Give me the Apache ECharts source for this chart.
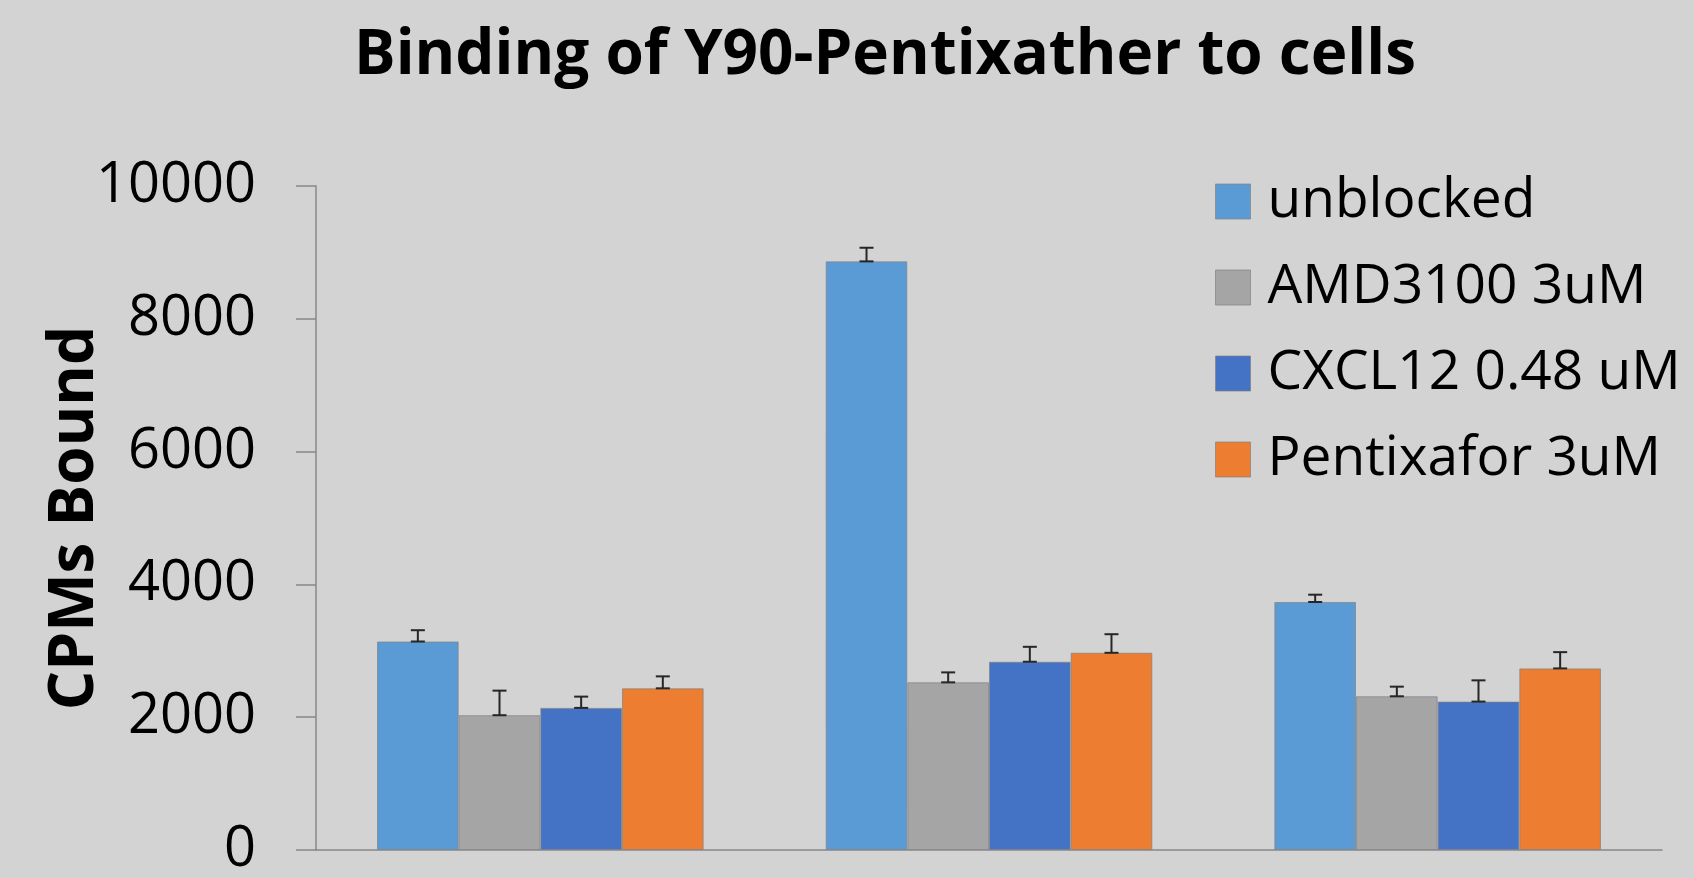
<!DOCTYPE html>
<html>
<head>
<meta charset="utf-8">
<title>Binding of Y90-Pentixather to cells</title>
<script src="https://cdn.jsdelivr.net/npm/echarts@6/dist/echarts.min.js"></script>
<style>
  html, body { margin: 0; padding: 0; background: #d3d3d3; }
  #chart { width: 1694px; height: 878px; }
</style>
</head>
<body>
<div id="chart"></div>
<script>
// groups have no labels on the axis
const categories = ['Group 1', 'Group 2', 'Group 3']
const seriesNames = ['unblocked', 'AMD3100 3uM', 'CXCL12 0.48 uM', 'Pentixafor 3uM']
const unblocked = [3140, 8865, 3735]
const amd3100 = [2030, 2525, 2315]
const cxcl12 = [2140, 2835, 2235]
const pentixafor = [2435, 2970, 2735]
// upper error (plus only)
const unblockedErr = [170, 205, 110]
const amd3100Err = [370, 150, 145]
const cxcl12Err = [170, 225, 320]
const pentixaforErr = [180, 280, 245]
const yTicks = [0, 2000, 4000, 6000, 8000, 10000]

const values = [unblocked, amd3100, cxcl12, pentixafor]
const errors = [unblockedErr, amd3100Err, cxcl12Err, pentixaforErr]
const colors = ['#5b9bd5', '#a5a5a5', '#4472c4', '#ed7d31']

const catGap = 0.272
const font = '"Open Sans", sans-serif'

const chart = echarts.init(document.getElementById('chart'))

const barSeries = values.map((data, i) => ({
  name: seriesNames[i],
  type: 'bar',
  data: data,
  barGap: 0,
  barCategoryGap: catGap * 100 + '%',
  itemStyle: {
    color: colors[i],
    borderColor: 'rgba(130,130,130,0.7)',
    borderWidth: 1
  }
}))

// error bars drawn on top of the bars
const errSeries = values.map((data, i) => ({
  type: 'custom',
  name: seriesNames[i] + ' err',
  z: 10,
  silent: true,
  data: data.map((v, j) => [j, v, v + errors[i][j]]),
  renderItem: function(params, api) {
    const band = api.size([1, 0])[0]
    const barW = band * (1 - catGap) / 4
    const off = -band * (1 - catGap) / 2 + barW * (i + 0.5)
    const lo = api.coord([api.value(0), api.value(1)])
    const hi = api.coord([api.value(0), api.value(2)])
    const x = lo[0] + off
    const cap = 7
    const style = { stroke: '#262626', lineWidth: 2 }
    return {
      type: 'group',
      children: [
        { type: 'line', shape: { x1: x, y1: lo[1], x2: x, y2: hi[1] }, style: style },
        { type: 'line', shape: { x1: x - cap, y1: hi[1], x2: x + cap, y2: hi[1] }, style: style },
        { type: 'line', shape: { x1: x - cap, y1: lo[1], x2: x + cap, y2: lo[1] }, style: style }
      ]
    }
  }
}))

const option = {
  backgroundColor: '#d3d3d3',
  animation: false,
  title: {
    text: 'Binding of Y90-Pentixather to cells',
    left: 880,
    textAlign: 'center',
    top: 20,
    textStyle: {
      fontFamily: font,
      fontWeight: 'bold',
      fontSize: 62,
      color: '#000'
    }
  },
  legend: {
    data: seriesNames,
    orient: 'vertical',
    left: 1210,
    top: 169,
    itemWidth: 35,
    itemHeight: 35,
    itemGap: 31,
    icon: 'rect',
    itemStyle: { borderColor: 'rgba(130,130,130,0.7)', borderWidth: 1 },
    textStyle: {
      fontFamily: font,
      fontSize: 55,
      color: '#000',
      padding: [0, 0, 0, 12]
    }
  },
  grid: {
    left: 316,
    right: 32,
    top: 186,
    bottom: 26
  },
  xAxis: {
    type: 'category',
    data: categories,
    axisLine: { lineStyle: { color: '#888', width: 1.5 } },
    axisTick: { show: false },
    axisLabel: { show: false }
  },
  yAxis: {
    type: 'value',
    min: yTicks[0],
    max: yTicks[yTicks.length - 1],
    interval: yTicks[1] - yTicks[0],
    name: 'CPMs Bound',
    nameLocation: 'middle',
    nameGap: 210,
    nameMoveOverlap: false,
    nameTextStyle: {
      fontFamily: font,
      fontWeight: 'bold',
      fontSize: 62,
      color: '#000'
    },
    axisLine: { show: true, lineStyle: { color: '#888', width: 1.5 } },
    axisTick: { show: true, length: 20, lineStyle: { color: '#888', width: 1.5 } },
    splitLine: { show: false },
    axisLabel: {
      margin: 60,
      fontFamily: font,
      fontSize: 56,
      color: '#000',
      formatter: v => String(v)
    }
  },
  series: barSeries.concat(errSeries)
}

chart.setOption(option)
</script>
</body>
</html>
